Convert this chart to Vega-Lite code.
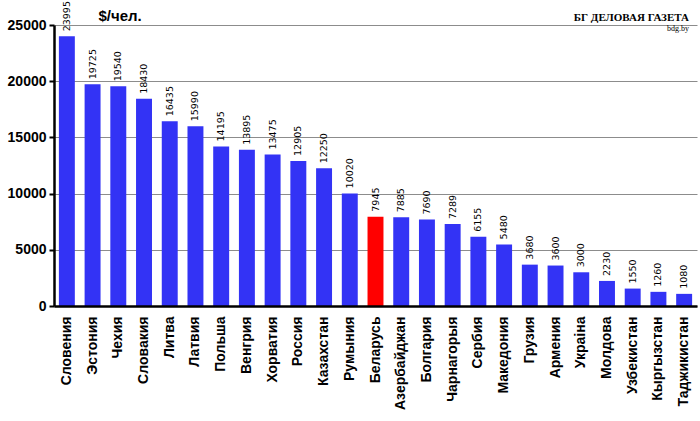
{
  "$schema": "https://vega.github.io/schema/vega-lite/v6.json",
  "width": 643,
  "height": 281,
  "autosize": {"type": "none"},
  "padding": {"left": 54, "top": 25, "right": 3, "bottom": 115},
  "background": "white",
  "title": {
    "text": "БГ ДЕЛОВАЯ ГАЗЕТА",
    "subtitle": "bdg.by",
    "anchor": "end",
    "frame": "group",
    "orient": "top",
    "offset": -32,
    "font": "Liberation Serif",
    "fontSize": 11,
    "fontWeight": "bold",
    "color": "black",
    "subtitleFont": "Liberation Serif",
    "subtitleFontSize": 8,
    "subtitleColor": "black",
    "subtitlePadding": 2,
    "dx": -8
  },
  "config": {
    "view": {"stroke": null},
    "axis": {"labelFont": "Liberation Sans", "labelColor": "black"}
  },
  "data": {
    "values": [
      {"country": "Словения", "value": 23995},
      {"country": "Эстония", "value": 19725},
      {"country": "Чехия", "value": 19540},
      {"country": "Словакия", "value": 18430},
      {"country": "Литва", "value": 16435},
      {"country": "Латвия", "value": 15990},
      {"country": "Польша", "value": 14195},
      {"country": "Венгрия", "value": 13895},
      {"country": "Хорватия", "value": 13475},
      {"country": "Россия", "value": 12905},
      {"country": "Казахстан", "value": 12250},
      {"country": "Румыния", "value": 10020},
      {"country": "Беларусь", "value": 7945},
      {"country": "Азербайджан", "value": 7885},
      {"country": "Болгария", "value": 7690},
      {"country": "Чарнагорыя", "value": 7289},
      {"country": "Сербия", "value": 6155},
      {"country": "Македония", "value": 5480},
      {"country": "Грузия", "value": 3680},
      {"country": "Армения", "value": 3600},
      {"country": "Украіна", "value": 3000},
      {"country": "Молдова", "value": 2230},
      {"country": "Узбекистан", "value": 1550},
      {"country": "Кыргызстан", "value": 1260},
      {"country": "Таджикистан", "value": 1080}
    ]
  },
  "encoding": {
    "x": {
      "field": "country",
      "type": "nominal",
      "sort": null,
      "scale": {"paddingInner": 0.38, "paddingOuter": 0.19},
      "axis": {
        "title": null,
        "labelAngle": -90,
        "labelFontSize": 14,
        "labelFontWeight": "bold",
        "labelPadding": 10,
        "ticks": false,
        "domainColor": "black",
        "domainWidth": 2.5,
        "zindex": 2
      }
    },
    "y": {
      "field": "value",
      "type": "quantitative",
      "scale": {"domain": [0, 25000], "nice": false},
      "axis": {
        "title": "$/чел.",
        "titleAngle": 0,
        "titleAlign": "left",
        "titleBaseline": "alphabetic",
        "titleX": 44,
        "titleY": -5,
        "titleFont": "Liberation Sans",
        "titleFontSize": 15,
        "titleFontWeight": "bold",
        "titleColor": "black",
        "values": [0, 5000, 10000, 15000, 20000, 25000],
        "format": "d",
        "labelFontSize": 14,
        "labelFontWeight": "bold",
        "labelPadding": 3,
        "tickColor": "black",
        "tickSize": 5,
        "tickWidth": 2,
        "domainColor": "black",
        "domainWidth": 2.5,
        "gridColor": "#8c8c8c",
        "gridWidth": 1.2
      }
    }
  },
  "layer": [
    {
      "mark": {"type": "bar"},
      "encoding": {
        "color": {
          "condition": {"test": "datum.country === 'Беларусь'", "value": "#ff0000"},
          "value": "#3333f5"
        }
      }
    },
    {
      "mark": {
        "type": "text",
        "angle": 270,
        "align": "left",
        "baseline": "middle",
        "dx": 5,
        "font": "DejaVu Sans",
        "fontSize": 9.5,
        "color": "black"
      },
      "encoding": {
        "text": {"field": "value", "type": "quantitative", "format": "d"}
      }
    }
  ]
}
